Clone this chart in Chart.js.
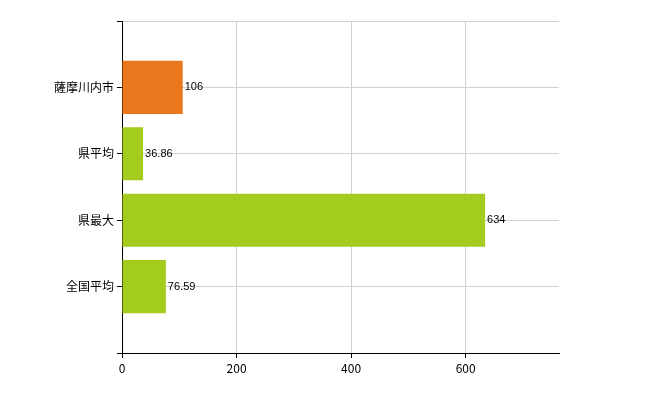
<!DOCTYPE html>
<html><head><meta charset="utf-8">
<script src="https://cdn.jsdelivr.net/npm/chart.js@4"></script>
<style>body{margin:0;background:#fff}#w{width:650px;height:400px}</style>
</head><body><div id="w"><canvas id="c"></canvas></div>
<script>
const categories = ['', '薩摩川内市', '県平均', '県最大', '全国平均', ''];
const values = [null, 106, 36.86, 634, 76.59, null];
const valueLabels = ['', '106', '36.86', '634', '76.59', ''];
const xTicks = [0, 200, 400, 600];
const colors = [null, '#E8771E', '#A3CC1E', '#A3CC1E', '#A3CC1E', null];
const labelPlugin = {
  id: 'lbl',
  afterDatasetsDraw(chart) {
    const ctx = chart.ctx, meta = chart.getDatasetMeta(0);
    ctx.save();
    ctx.font = '11px "Liberation Sans", Arial, sans-serif';
    ctx.fillStyle = '#000'; ctx.textBaseline = 'middle';
    meta.data.forEach((b, i) => { if (values[i] != null) ctx.fillText(valueLabels[i], b.x + 2, b.y); });
    ctx.restore();
  }
};
new Chart(document.getElementById('c'), {
  type: 'bar',
  data: { labels: categories, datasets: [{ data: values, backgroundColor: colors, barPercentage: 0.8, categoryPercentage: 1 }] },
  options: {
    indexAxis: 'y', responsive: true, maintainAspectRatio: false, animation: false,
    layout: { padding: { left: 0, right: 91, top: 21, bottom: 0 } },
    plugins: { legend: { display: false }, tooltip: { enabled: false } },
    scales: {
      x: { min: 0, max: 763,
           afterBuildTicks: s => { s.ticks = xTicks.map(v => ({ value: v })); },
           afterFit: s => { s.height = 47; },
           ticks: { color: '#000', font: { size: 12, family: '"Noto Sans CJK JP", sans-serif' } },
           grid: { color: '#d0d0d0', tickColor: '#000', tickLength: 5 }, border: { color: '#000' } },
      y: { offset: false, afterFit: s => { s.width = 122; },
           ticks: { color: '#000', font: { size: 12, family: '"Noto Sans CJK JP", sans-serif' }, autoSkip: false },
           grid: { offset: false, color: '#d0d0d0', tickColor: '#000', tickLength: 5 }, border: { color: '#000' } }
    }
  },
  plugins: [labelPlugin]
});
</script></body></html>
